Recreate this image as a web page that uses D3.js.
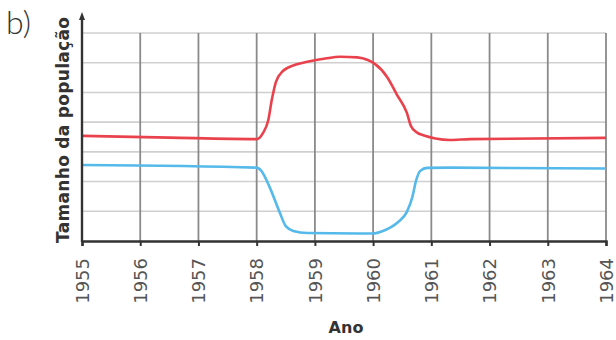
<!DOCTYPE html>
<html><head><meta charset="utf-8">
<script src="https://cdn.jsdelivr.net/npm/d3@7"></script>
<style>body{margin:0;background:#fff}svg{display:block}</style>
</head><body>
<svg id="c" width="616" height="340"></svg>
<script>
const years = [1955,1956,1957,1958,1959,1960,1961,1962,1963,1964];
const gridValues = [0,1,2,3,4,5,6,7];
const redYears  = [1955,1956.5,1958,1958.11,1958.2,1958.26,1958.33,1958.45,1958.66,1958.87,1959.18,1959.43,1959.73,1959.91,1960.03,1960.24,1960.41,1960.58,1960.65,1960.74,1960.89,1961.07,1961.32,1961.67,1964];
const redValues = [3.54,3.48,3.43,3.64,4.07,4.75,5.35,5.72,5.93,6.03,6.14,6.2,6.18,6.09,5.96,5.52,4.92,4.31,3.87,3.67,3.54,3.45,3.40,3.43,3.47];
const blueYears  = [1955,1958,1958.08,1958.23,1958.4,1958.5,1958.63,1958.87,1959.98,1960.21,1960.43,1960.58,1960.67,1960.74,1960.81,1960.93,1961.32,1964];
const blueValues = [2.56,2.47,2.36,1.78,0.94,0.5,0.34,0.27,0.25,0.37,0.64,0.98,1.45,2.05,2.36,2.46,2.47,2.44];

const svg = d3.select("#c");
const x = d3.scaleLinear().domain([1955,1964]).range([82,606]);
const y = d3.scaleLinear().domain([0,7]).range([241,33]);

// horizontal grid
svg.append("g").selectAll("line").data(gridValues.slice(1)).join("line")
  .attr("x1",x(1955)).attr("x2",x(1964)).attr("y1",d=>y(d)).attr("y2",d=>y(d))
  .attr("stroke","#cfcfcf").attr("stroke-width",1.6);
// vertical grid
svg.append("g").selectAll("line").data(years.slice(1)).join("line")
  .attr("x1",d=>x(d)).attr("x2",d=>x(d)).attr("y1",y(7)).attr("y2",y(0))
  .attr("stroke","#8a8a8a").attr("stroke-width",1.8);

const line = d3.line().curve(d3.curveMonotoneX);
svg.append("path").attr("d", line(redYears.map((d,i)=>[x(d), y(redValues[i])])))
  .attr("fill","none").attr("stroke","#e9424c").attr("stroke-width",2.6);
svg.append("path").attr("d", line(blueYears.map((d,i)=>[x(d), y(blueValues[i])])))
  .attr("fill","none").attr("stroke","#55b9ea").attr("stroke-width",2.6);

// x axis
const xAxis = d3.axisBottom(x).tickValues(years).tickFormat(d3.format("d")).tickSize(5).tickPadding(8);
const gx = svg.append("g").attr("transform",`translate(0,${y(0)})`).call(xAxis);
gx.select(".domain").attr("stroke","#333").attr("stroke-width",2.4);
gx.selectAll(".tick line").attr("stroke","#333").attr("stroke-width",2);
gx.selectAll(".tick text")
  .attr("transform","rotate(-90)")
  .attr("x",-17).attr("y",0).attr("dy","0.35em")
  .style("text-anchor","end")
  .attr("fill","#555")
  .style("font-family","DejaVu Sans").style("font-size","18px");

// y axis with arrow
svg.append("line").attr("x1",x(1955)).attr("x2",x(1955)).attr("y1",y(0)+1).attr("y2",17)
  .attr("stroke","#333").attr("stroke-width",2.4);
svg.append("path").attr("d",`M${x(1955)-3},20 L${x(1955)},12 L${x(1955)+3},20 Z`).attr("fill","#333");

// labels
svg.append("text").attr("transform",`translate(69,130) rotate(-90)`)
  .attr("text-anchor","middle").style("font-family","DejaVu Sans").style("font-weight","bold")
  .style("font-size","17px").attr("fill","#333")
  .attr("textLength",226).attr("lengthAdjust","spacing").text("Tamanho da população");
svg.append("text").attr("x",346).attr("y",333).attr("text-anchor","middle")
  .style("font-family","DejaVu Sans").style("font-weight","bold").style("font-size","16px")
  .attr("fill","#333").text("Ano");
svg.append("text").attr("x",6).attr("y",34)
  .style("font-family","Lato").style("font-weight","300").style("font-size","32px")
  .attr("fill","#333").text("b)");
</script>
</body></html>
